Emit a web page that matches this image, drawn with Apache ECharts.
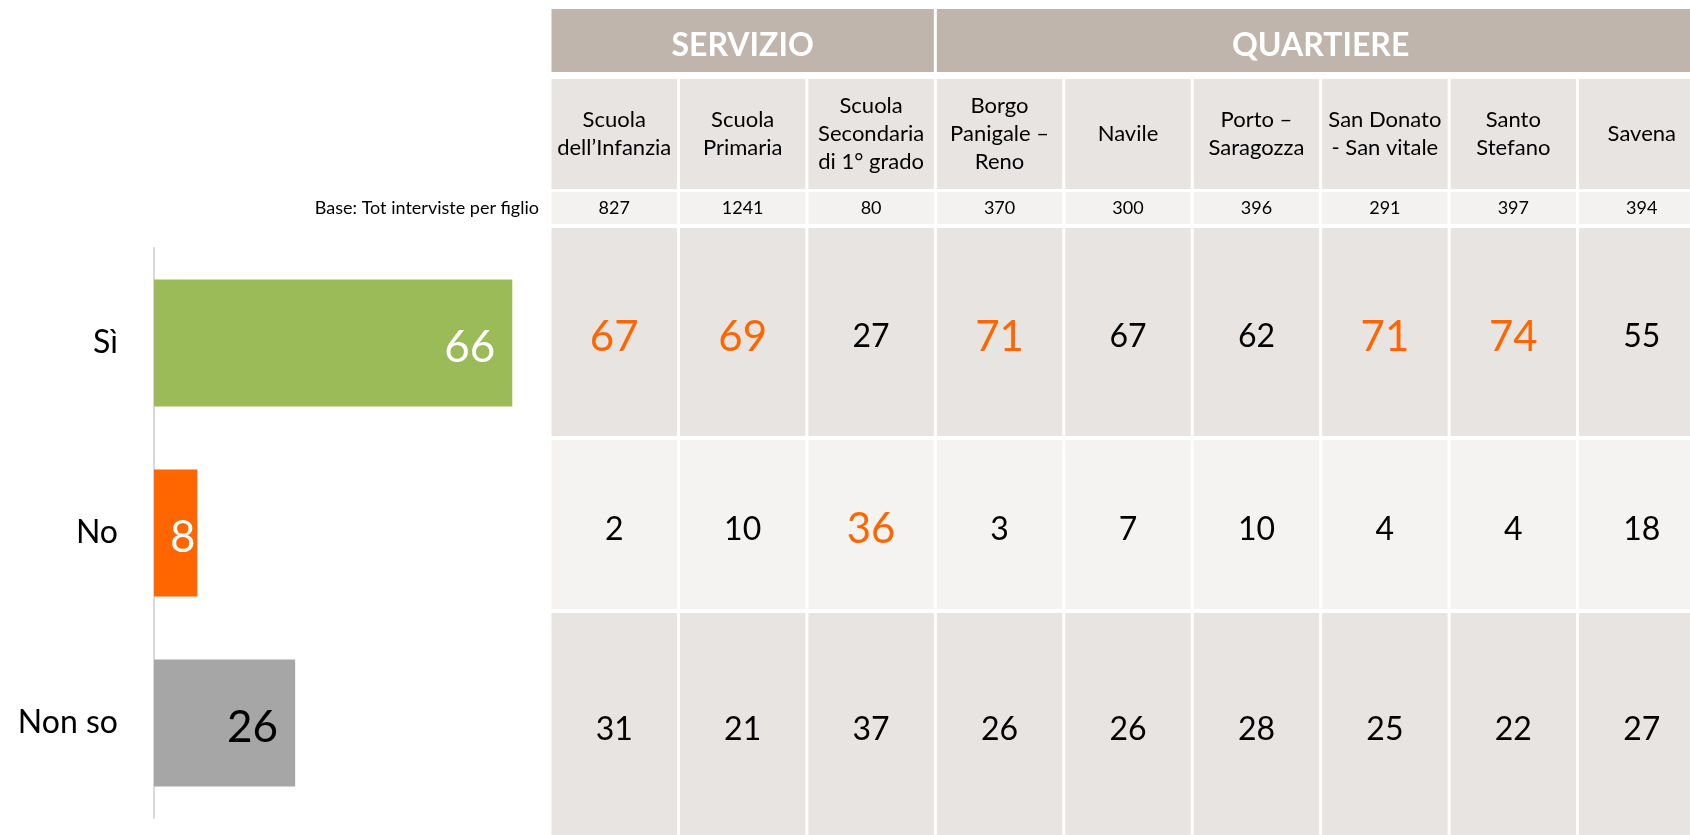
<!DOCTYPE html>
<html>
<head>
<meta charset="utf-8">
<script src="https://cdn.jsdelivr.net/npm/echarts@6/dist/echarts.min.js"></script>
<style>
  html, body { margin: 0; padding: 0; background: #fff; }
  #main { width: 1690px; height: 835px; }
</style>
</head>
<body>
<div id="main"></div>
<script>
// dati
var answers = ['Sì', 'No', 'Non so'];
var totals = [66, 8, 26];

var columns = ['Scuola\ndell\u2019Infanzia', 'Scuola\nPrimaria', 'Scuola\nSecondaria\ndi 1° grado',
  'Borgo\nPanigale \u2013\nReno', 'Navile', 'Porto \u2013\nSaragozza', 'San Donato\n- San vitale',
  'Santo\nStefano', 'Savena'];
var groups = ['SERVIZIO', 'QUARTIERE'];
var groupFirst = [0, 3];
var groupLast = [2, 8];
var baseLabel = 'Base: Tot interviste per figlio';
var baseCounts = [827, 1241, 80, 370, 300, 396, 291, 397, 394];

var siValues = [67, 69, 27, 71, 67, 62, 71, 74, 55];
var noValues = [2, 10, 36, 3, 7, 10, 4, 4, 18];
var nonSoValues = [31, 21, 37, 26, 26, 28, 25, 22, 27];
// celle evidenziate (in arancione)
var siHighlight = [0, 1, 3, 6, 7];
var noHighlight = [2];
var nonSoHighlight = [];

// stili
var FONT = 'Lato, "Open Sans", sans-serif';
var barColors = ['#9bbb59', '#ff6600', '#a6a6a6'];
var barLabelColors = ['#ffffff', '#ffffff', '#000000'];
var barLabelDistance = [17, 2, 17];
var ORANGE = '#ff6600';

var chart = echarts.init(document.getElementById('main'));

// righe della tabella: top, height, spostamento verticale del testo
var tableRows = [
  { top: 9, height: 63, dy: 5 },     // intestazione gruppi
  { top: 79, height: 110, dy: 0 },   // nomi colonne
  { top: 192, height: 32, dy: 0 },   // base
  { top: 228, height: 208, dy: 5 },  // Sì
  { top: 440, height: 169, dy: 5 },  // No
  { top: 613, height: 222, dy: 6 }   // Non so
];

var grids = [{ left: 154, top: 248, width: 380, height: 570, outerBoundsMode: 'none' }];
var xAxes = [{ type: 'value', min: 0, max: 70, show: false, gridIndex: 0 }];
var yAxes = [{
  type: 'category', data: answers, inverse: true, gridIndex: 0,
  axisLine: { show: true, lineStyle: { color: '#d9d9d9', width: 2 } },
  axisTick: { show: false },
  axisLabel: { color: '#000', fontSize: 32, fontFamily: FONT, margin: 36, padding: [10, 0, 0, 0] }
}];

tableRows.forEach(function(r, i){
  var gi = i + 1;
  // l'ultima colonna esce dal bordo destro
  grids.push({ left: 550, width: 1156, top: r.top, height: r.height, outerBoundsMode: 'none' });
  xAxes.push({ type: 'category', data: columns, gridIndex: gi, show: false });
  yAxes.push({
    type: 'category', data: [i === 2 ? baseLabel : 'r' + i], gridIndex: gi,
    show: i === 2,
    axisLine: { show: false }, axisTick: { show: false },
    axisLabel: { color: '#000', fontSize: 18, fontFamily: FONT, margin: 11 }
  });
});

// cella generica: rettangolo nella banda della categoria + testo al centro
function cellRender(fill, dy, textOf){
  return function(params, api){
    var c = api.coord([api.value(0), 0]);
    var s = api.size([1, 1]);
    var t = textOf(params.dataIndex);
    return {
      type: 'group',
      children: [
        { type: 'rect', shape: { x: c[0] - s[0] / 2 + 1.5, y: c[1] - s[1] / 2, width: s[0] - 3, height: s[1] },
          style: { fill: fill } },
        { type: 'text', x: c[0], y: c[1] + dy,
          style: { text: t.text, fill: t.color || '#000', fontSize: t.size, fontFamily: FONT,
            fontWeight: t.weight || 'normal', lineHeight: t.lineHeight,
            align: 'center', verticalAlign: 'middle' } }
      ]
    };
  };
}

function cellData(){
  return columns.map(function(c, i){ return [i, 0]; });
}

function valueSeries(gi, values, hl, fill){
  return {
    type: 'custom', xAxisIndex: gi, yAxisIndex: gi, silent: true,
    data: cellData(), encode: { x: 0, y: 1 },
    renderItem: cellRender(fill, tableRows[gi - 1].dy, function(i){
      var on = hl.indexOf(i) >= 0;
      return { text: String(values[i]), color: on ? ORANGE : '#000', size: on ? 42 : 32 };
    })
  };
}

var series = [
  {
    type: 'bar', xAxisIndex: 0, yAxisIndex: 0, barWidth: 127, silent: true,
    data: totals.map(function(v, i){
      return {
        value: v,
        itemStyle: { color: barColors[i] },
        label: { color: barLabelColors[i], distance: barLabelDistance[i] }
      };
    }),
    label: { show: true, position: 'insideRight', fontSize: 44, fontFamily: FONT, offset: [0, 5] }
  },
  {
    // intestazione gruppi
    type: 'custom', xAxisIndex: 1, yAxisIndex: 1, silent: true,
    data: groups.map(function(g, i){ return [groupFirst[i], 0, groupLast[i]]; }),
    encode: { x: [0, 2], y: 1 },
    renderItem: function(params, api){
      var a = api.coord([api.value(0), 0]);
      var b = api.coord([api.value(2), 0]);
      var s = api.size([1, 1]);
      var x0 = a[0] - s[0] / 2 + 1.5, x1 = b[0] + s[0] / 2 - 1.5;
      return {
        type: 'group',
        children: [
          { type: 'rect', shape: { x: x0, y: a[1] - s[1] / 2, width: x1 - x0, height: s[1] },
            style: { fill: '#c0b5ac' } },
          { type: 'text', x: (x0 + x1) / 2, y: a[1] + tableRows[0].dy,
            style: { text: groups[params.dataIndex], fill: '#fff', fontSize: 32, fontWeight: 'bold',
              fontFamily: FONT, align: 'center', verticalAlign: 'middle' } }
        ]
      };
    }
  },
  {
    type: 'custom', xAxisIndex: 2, yAxisIndex: 2, silent: true,
    data: cellData(), encode: { x: 0, y: 1 },
    renderItem: cellRender('#e8e4e1', tableRows[1].dy, function(i){
      return { text: columns[i], size: 22, lineHeight: 28 };
    })
  },
  {
    type: 'custom', xAxisIndex: 3, yAxisIndex: 3, silent: true,
    data: cellData(), encode: { x: 0, y: 1 },
    renderItem: cellRender('#f3f2f0', tableRows[2].dy, function(i){
      return { text: String(baseCounts[i]), size: 18 };
    })
  },
  valueSeries(4, siValues, siHighlight, '#e8e4e1'),
  valueSeries(5, noValues, noHighlight, '#f4f3f1'),
  valueSeries(6, nonSoValues, nonSoHighlight, '#e8e4e1')
];

chart.setOption({
  animation: false,
  textStyle: { fontFamily: FONT },
  grid: grids,
  xAxis: xAxes,
  yAxis: yAxes,
  series: series
});
window.onresize = chart.resize;
</script>
</body>
</html>
